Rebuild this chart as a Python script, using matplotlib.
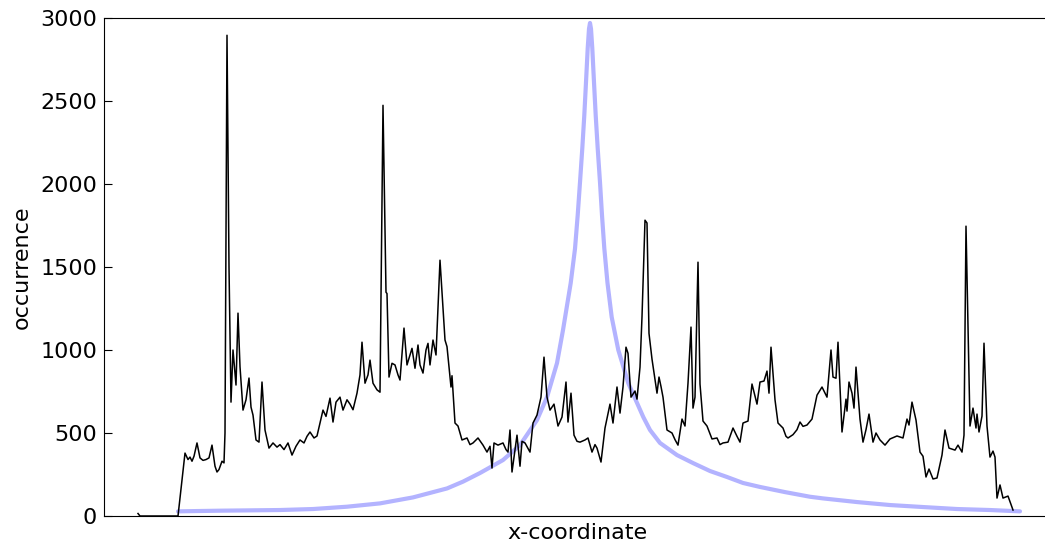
import matplotlib.pyplot as plt

# histogram of x-coordinates (bin position, occurrence)
hist_x = [34, 36, 74, 81, 84, 86, 88, 90, 93, 96, 99, 102, 105, 108, 111, 113,
          115, 118, 120, 121, 123, 125, 127, 129, 132, 134, 136, 139, 142, 145,
          147, 149, 152, 155, 158, 161, 165, 169, 173, 176, 180, 184, 188, 192,
          196, 200, 203, 206, 210, 213, 216, 219, 222, 226, 229, 232, 236, 239,
          243, 246, 249, 253, 256, 258, 261, 264, 266, 269, 273, 276, 279, 281,
          282, 283, 285, 288, 291, 294, 296, 300, 303, 306, 308, 311, 314, 316,
          319, 322, 324, 326, 329, 332, 336, 341, 343, 347, 348, 351, 354, 358,
          363, 366, 369, 374, 379, 383, 386, 388, 390, 394, 399, 402, 404, 406,
          408, 411, 413, 416, 418, 421, 426, 429, 433, 437, 440, 443, 446, 450,
          454, 458, 462, 464, 467, 470, 473, 476, 481, 484, 488, 491, 493, 497,
          501, 506, 509, 513, 516, 519, 522, 524, 527, 531, 533, 536, 538, 541,
          543, 545, 548, 551, 553, 555, 557, 559, 563, 568, 571, 574, 578, 581,
          584, 587, 589, 591, 594, 596, 599, 603, 608, 613, 616, 619, 624, 629,
          633, 636, 639, 644, 648, 653, 656, 660, 663, 665, 667, 671, 674, 679,
          682, 684, 689, 693, 696, 699, 703, 708, 713, 718, 723, 727, 729, 732,
          734, 738, 742, 743, 745, 748, 750, 752, 756, 759, 762, 765, 769, 772,
          776, 781, 786, 793, 799, 803, 805, 808, 812, 816, 819, 822, 825, 829,
          833, 838, 841, 845, 851, 854, 858, 860, 862, 866, 869, 872, 873, 875,
          878, 880, 883, 886, 889, 891, 893, 896, 899, 904, 909]
occurrence = [15, 0, 0, 379, 340, 355, 330, 360, 440, 350, 335, 340, 350, 427,
              300, 265, 280, 330, 320, 500, 2896, 1500, 686, 1000, 789, 1222,
              900, 638, 700, 831, 656, 608, 458, 445, 807, 518, 409, 440, 415,
              430, 400, 440, 367, 420, 458, 440, 480, 506, 470, 482, 560, 638,
              600, 710, 566, 686, 716, 638, 700, 674, 640, 740, 850, 1047, 800,
              850, 939, 800, 760, 746, 2474, 1700, 1348, 1340, 837, 920, 910,
              850, 819, 1132, 910, 970, 1010, 890, 1030, 910, 861, 1000, 1040,
              910, 1060, 970, 1541, 1060, 1020, 777, 845, 560, 542, 458, 470,
              430, 440, 470, 427, 385, 420, 289, 440, 427, 440, 400, 385, 518,
              265, 400, 487, 300, 450, 440, 385, 560, 608, 716, 957, 716, 638,
              674, 542, 596, 807, 566, 740, 487, 450, 445, 458, 470, 385, 430,
              409, 325, 530, 674, 560, 777, 620, 777, 1017, 980, 716, 753, 704,
              897, 1200, 1782, 1765, 1100, 945, 820, 740, 837, 780, 716, 518,
              500, 460, 427, 584, 542, 800, 1138, 650, 716, 1529, 795, 572, 542,
              464, 470, 430, 440, 445, 530, 480, 445, 560, 572, 795, 674, 807,
              813, 873, 740, 1017, 700, 560, 530, 480, 470, 490, 520, 566, 540,
              548, 584, 728, 777, 716, 1000, 837, 830, 1047, 506, 704, 632, 807,
              740, 650, 897, 584, 445, 520, 614, 445, 500, 458, 427, 464, 482,
              470, 584, 548, 686, 578, 385, 360, 235, 283, 223, 229, 367, 518,
              409, 397, 427, 385, 487, 1746, 542, 650, 530, 614, 506, 602, 1041,
              542, 355, 391, 355, 108, 187, 108, 120, 36]

# fitted peak curve (position, value)
fit_x = [74, 116, 176, 209, 243, 276, 309, 343, 359, 376, 399, 416, 433, 443,
         453, 459, 466.7, 471, 473.7, 476, 478.3, 480.3, 482, 483.7, 485, 486,
         487, 488.3, 490, 491.7, 493.7, 496, 498, 500.3, 503.5, 507.7, 514.3,
         524.3, 539.3, 546, 556, 573, 589, 606, 623, 639, 656, 681, 706, 719,
         753, 786, 819, 853, 886, 916]
fit_y = [28, 32, 36, 42, 56, 76, 112, 166, 207, 259, 337, 427, 578, 716, 921,
         1120, 1403, 1610, 1812, 2010, 2215, 2414, 2613, 2817, 2935, 2970, 2935,
         2817, 2613, 2414, 2215, 2010, 1812, 1613, 1403, 1198, 1000, 800, 596,
         518, 440, 367, 319, 271, 235, 199, 175, 144, 116, 106, 84, 66, 54, 42,
         36, 28]

fig = plt.figure(figsize=(10.45, 5.44), dpi=100)
ax = fig.add_axes([104 / 1045, 28 / 544, 946 / 1045, 498 / 544])

ax.plot(fit_x, fit_y, color='#b3b3ff', linewidth=3, solid_capstyle='round',
        solid_joinstyle='round')
ax.plot(hist_x, occurrence, color='black', linewidth=1.1)

ax.set_xlim(0, 946)
ax.set_ylim(0, 3000)
ax.set_yticks(range(0, 3001, 500))
ax.set_xticks([])
ax.tick_params(axis='y', direction='in', length=6, labelsize=16,
               left=True, right=False, pad=5)
ax.set_xlabel('x-coordinate', fontsize=16, labelpad=5)
ax.set_ylabel('occurrence', fontsize=16, labelpad=6)

fig.savefig('out.png', dpi=100)
